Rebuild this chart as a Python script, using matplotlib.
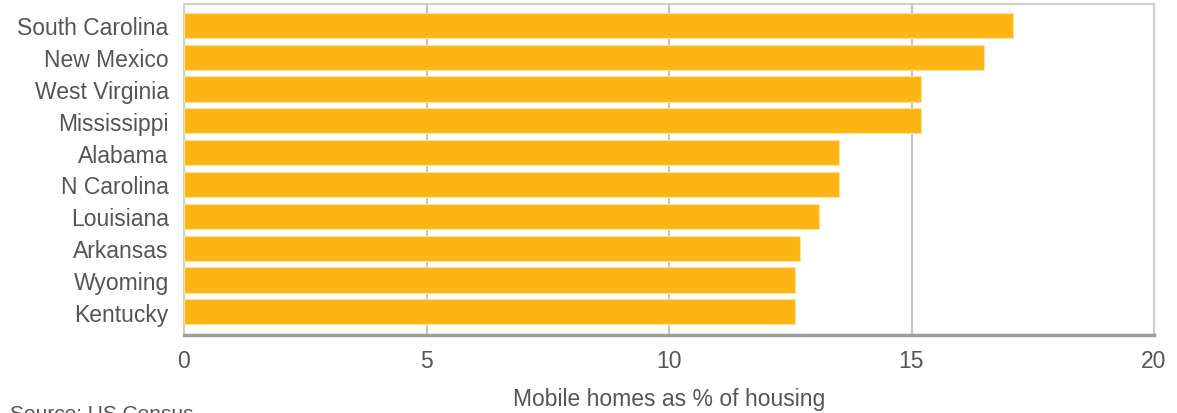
import matplotlib
matplotlib.use('agg')
import matplotlib.pyplot as plt
import numpy as np

# data
states = ['South Carolina', 'New Mexico', 'West Virginia', 'Mississippi', 'Alabama',
          'N Carolina', 'Louisiana', 'Arkansas', 'Wyoming', 'Kentucky']
values = [17.1, 16.5, 15.2, 15.2, 13.5, 13.5, 13.1, 12.7, 12.6, 12.6]
xticks = [0, 5, 10, 15, 20]

plt.rcParams['font.family'] = ['Liberation Sans', 'DejaVu Sans']
text_col = '#555555'
fs = 16.5

fig = plt.figure(figsize=(11.77, 4.14), dpi=100)
ax = fig.add_axes([184/1177, 1 - 336/414, (1154-184)/1177, (336-5)/414])

y = np.arange(len(states))
ax.barh(y, values, height=0.79, color='#fdb515', edgecolor='#fde29a', linewidth=0.8, zorder=3)

ax.set_xlim(0, 20)
ax.set_ylim(9.73, -0.67)
ax.set_yticks(y)
ax.set_yticklabels(states)
ax.set_xticks(xticks)
ax.set_xticklabels([str(t) for t in xticks])
ax.tick_params(axis='y', length=0, pad=11, labelsize=fs, labelcolor=text_col)
ax.tick_params(axis='x', length=0, pad=10, labelsize=fs, labelcolor=text_col)

ax.grid(axis='x', color='#c4c4c4', linewidth=1.5, zorder=0)
ax.grid(axis='y', visible=False)

for s in ['top', 'right', 'left']:
    ax.spines[s].set_color('#cfcfcf')
    ax.spines[s].set_linewidth(1.5)
ax.spines['bottom'].set_color('#9e9e9e')
ax.spines['bottom'].set_linewidth(2.5)

ax.set_xlabel('Mobile homes as % of housing', fontsize=fs, color=text_col, labelpad=11)

# source line sits at the bottom edge, partly cut off as in the original
fig.text(10/1177, 1 - 405/414, 'Source: US Census', fontsize=15, color=text_col, va='top', ha='left')

fig.savefig('out.png', dpi=100)
